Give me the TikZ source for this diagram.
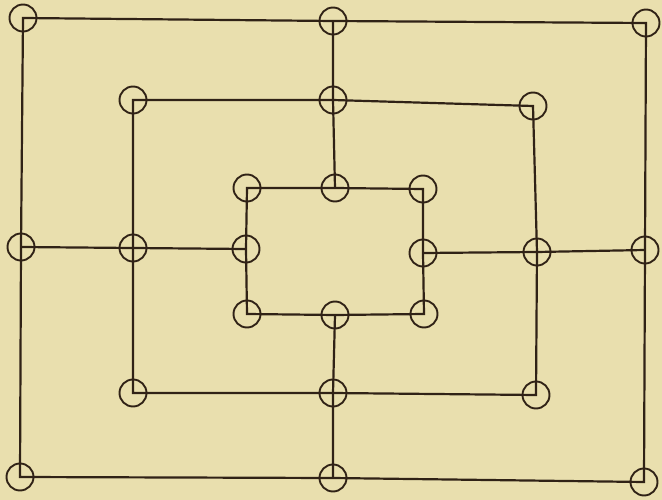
\documentclass[tikz,border=0pt]{standalone}
\definecolor{paper}{RGB}{233,223,174}
\definecolor{ink}{RGB}{48,34,22}
\begin{document}
\begin{tikzpicture}[x=1pt,y=-1pt,
  ln/.style={draw=ink,line width=2.2pt},
  pt/.style={circle,draw=ink,line width=1.9pt,minimum size=27pt,inner sep=0pt}]
\fill[paper] (0,0) rectangle (662,500);
\useasboundingbox (0,0) rectangle (662,500);
% outer
\coordinate (A1) at (23,18);  \coordinate (A2) at (333,21); \coordinate (A3) at (646,23);
\coordinate (A4) at (645,250); \coordinate (A5) at (644,482); \coordinate (A6) at (333,478);
\coordinate (A7) at (20,477); \coordinate (A8) at (21,247);
% middle
\coordinate (B1) at (133,100); \coordinate (B2) at (333,100); \coordinate (B3) at (533,106);
\coordinate (B4) at (537,252); \coordinate (B5) at (536,395); \coordinate (B6) at (333,393);
\coordinate (B7) at (133,393); \coordinate (B8) at (133,248);
% inner
\coordinate (C1) at (247,188); \coordinate (C2) at (335,188); \coordinate (C3) at (423,189);
\coordinate (C4) at (423,253); \coordinate (C5) at (424,314); \coordinate (C6) at (335,315);
\coordinate (C7) at (247,314); \coordinate (C8) at (246,249);
\draw[ln] (A1) -- (A2) -- (A3) -- (A4) -- (A5) -- (A6) -- (A7) -- (A8) -- cycle;
\draw[ln] (B1) -- (B2) -- (B3) -- (B4) -- (B5) -- (B6) -- (B7) -- (B8) -- cycle;
\draw[ln] (C1) -- (C2) -- (C3) -- (C4) -- (C5) -- (C6) -- (C7) -- (C8) -- cycle;
\draw[ln] (A2) -- (B2) -- (C2);
\draw[ln] (A8) -- (B8) -- (C8);
\draw[ln] (A4) -- (B4) -- (C4);
\draw[ln] (A6) -- (B6) -- (C6);
\foreach \p in {A1,A2,A3,A4,A5,A6,A7,A8,B1,B2,B3,B4,B5,B6,B7,B8,C1,C2,C3,C4,C5,C6,C7,C8}
  \node[pt] (n\p) at (\p) {};
\end{tikzpicture}
\end{document}
